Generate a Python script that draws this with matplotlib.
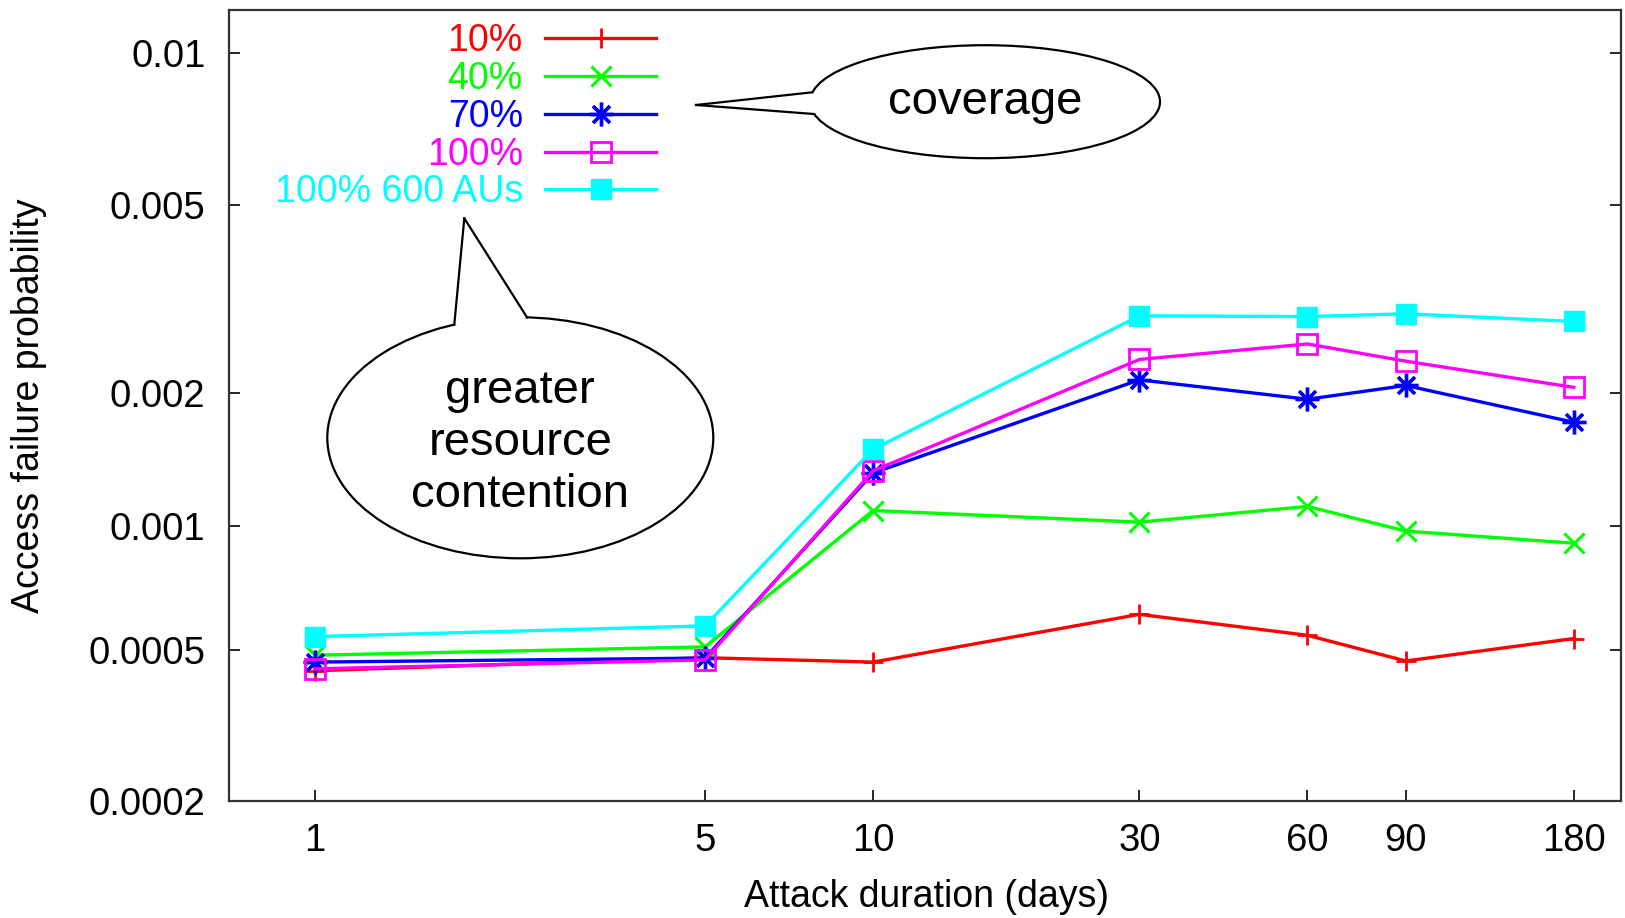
import numpy as np
import matplotlib
matplotlib.use("Agg")
import matplotlib.pyplot as plt
from matplotlib.patches import Ellipse, Polygon
from matplotlib.lines import Line2D
from matplotlib.ticker import FixedLocator, FixedFormatter, NullLocator

plt.rcParams["font.family"] = ["Liberation Sans", "DejaVu Sans"]

# data
days = [1, 5, 10, 30, 60, 90, 180]
cov_10 = [0.000443, 0.000478, 0.000466, 0.000613, 0.000544, 0.000469, 0.000534]
cov_40 = [0.000485, 0.000509, 0.001086, 0.00102, 0.00111, 0.000972, 0.00091]
cov_70 = [0.000466, 0.000477, 0.001325, 0.00214, 0.00194, 0.00208, 0.001725]
cov_100 = [0.000448, 0.000472, 0.00134, 0.00237, 0.00256, 0.00235, 0.00206]
cov_100_600 = [0.00054, 0.000574, 0.0015, 0.00294, 0.00293, 0.00297, 0.00286]

series_labels = ["10%", "40%", "70%", "100%", "100% 600 AUs"]
x_ticks = [1, 5, 10, 30, 60, 90, 180]
y_ticks = [0.0002, 0.0005, 0.001, 0.002, 0.005, 0.01]
y_tick_labels = ["0.0002", "0.0005", "0.001", "0.002", "0.005", "0.01"]

# the y axis of the original is a slightly bent log scale
BETA = 0.0662


def fwd(p):
    u = np.log10(np.clip(np.asarray(p, dtype=float), 1e-12, None))
    return u + BETA * u ** 2


def inv(g):
    g = np.asarray(g, dtype=float)
    disc = np.clip(1 + 4 * BETA * g, 0, None)
    u = (-1 + np.sqrt(disc)) / (2 * BETA)
    return 10 ** u


W, H = 1625, 918
fig = plt.figure(figsize=(W / 100, H / 100), dpi=100)
ax = fig.add_axes([229 / W, 1 - 801 / H, (1621 - 229) / W, (801 - 10) / H])

ax.set_xscale("log")
ax.set_yscale("function", functions=(fwd, inv))

styles = [
    dict(color="#ff0000", marker="+", ms=15, mew=2.0),
    dict(color="#00ff00", marker="x", ms=14, mew=2.2),
    dict(color="#0000ff", marker=(8, 2, 0), ms=17, mew=2.4),
    dict(color="#ff00ff", marker="s", ms=15, mew=2.0, mfc="none"),
    dict(color="#00ffff", marker="s", ms=15, mew=1.0),
]
all_series = [cov_10, cov_40, cov_70, cov_100, cov_100_600]
for vals, lab, st in zip(all_series, series_labels, styles):
    ax.plot(days, vals, lw=2.4, label=lab, **st)

ax.set_xlim(0.7017, 218.7)
ax.set_ylim(0.0002, 0.01206)

ax.xaxis.set_major_locator(FixedLocator(x_ticks))
ax.xaxis.set_major_formatter(FixedFormatter([str(t) for t in x_ticks]))
ax.xaxis.set_minor_locator(NullLocator())
ax.yaxis.set_major_locator(FixedLocator(y_ticks))
ax.yaxis.set_major_formatter(FixedFormatter(y_tick_labels))
ax.yaxis.set_minor_locator(NullLocator())

ax.tick_params(axis="x", direction="in", length=8, width=1.2, labelsize=27.5, pad=16)
ax.tick_params(axis="y", direction="in", length=8, width=1.2, labelsize=27.5, pad=17,
               right=True)
for sp in ax.spines.values():
    sp.set_linewidth(1.6)
    sp.set_color("#333333")

ax.set_xlabel("Attack duration (days)", fontsize=27, va="center")
ax.xaxis.set_label_coords((927 - 229) / (1621 - 229), (801 - 897) / (801 - 10))
ax.set_ylabel("Access failure probability", fontsize=27, va="center")
ax.yaxis.set_label_coords((29 - 229) / (1621 - 229), 0.5)

ax.legend(loc="upper right", bbox_to_anchor=(656 / W, 1 - 23 / H),
          bbox_transform=fig.transFigure, frameon=False, markerfirst=False,
          labelcolor="linecolor", fontsize=27, handlelength=2.95,
          handletextpad=0.6, labelspacing=0.05, borderpad=0, borderaxespad=0,
          numpoints=1)


# speech bubbles (figure pixel coords, y measured from the top)
def bubble(cx, cy, w, h, tip, a1, a2, lines, size, text_dy=0, spacing=1.2):
    cyf = H - cy
    a, b = w / 2, h / 2
    ell = Ellipse((cx / W, cyf / H), w / W, h / H, transform=fig.transFigure,
                  facecolor="white", edgecolor="black", lw=1.6, zorder=5)
    fig.add_artist(ell)
    p1 = (cx + a * np.cos(np.radians(a1)), cyf + b * np.sin(np.radians(a1)))
    p2 = (cx + a * np.cos(np.radians(a2)), cyf + b * np.sin(np.radians(a2)))
    tp = (tip[0], H - tip[1])
    # small inward points so the white fill hides the ellipse outline
    am = np.radians((a1 + a2) / 2)
    inner = (cx + 0.85 * a * np.cos(am), cyf + 0.85 * b * np.sin(am))
    poly = Polygon([(p1[0] / W, p1[1] / H), (tp[0] / W, tp[1] / H),
                    (p2[0] / W, p2[1] / H), (inner[0] / W, inner[1] / H)],
                   closed=True, transform=fig.transFigure, facecolor="white",
                   edgecolor="none", zorder=6)
    fig.add_artist(poly)
    for p in (p1, p2):
        fig.add_artist(Line2D([p[0] / W, tp[0] / W], [p[1] / H, tp[1] / H],
                              transform=fig.transFigure, color="black", lw=1.6,
                              zorder=7))
    fig.text(cx / W, (cyf - text_dy) / H, lines, ha="center", va="center",
             fontsize=size, linespacing=spacing, transform=fig.transFigure,
             zorder=8)


bubble(985, 101.7, 350, 113, (696, 105), 170.4, 192.6, "coverage", 34)
bubble(520.3, 437.8, 386, 241, (464.3, 218.3), 110, 88,
       "greater\nresource\ncontention", 34, text_dy=5, spacing=1.23)

fig.savefig("out.png", dpi=100)
